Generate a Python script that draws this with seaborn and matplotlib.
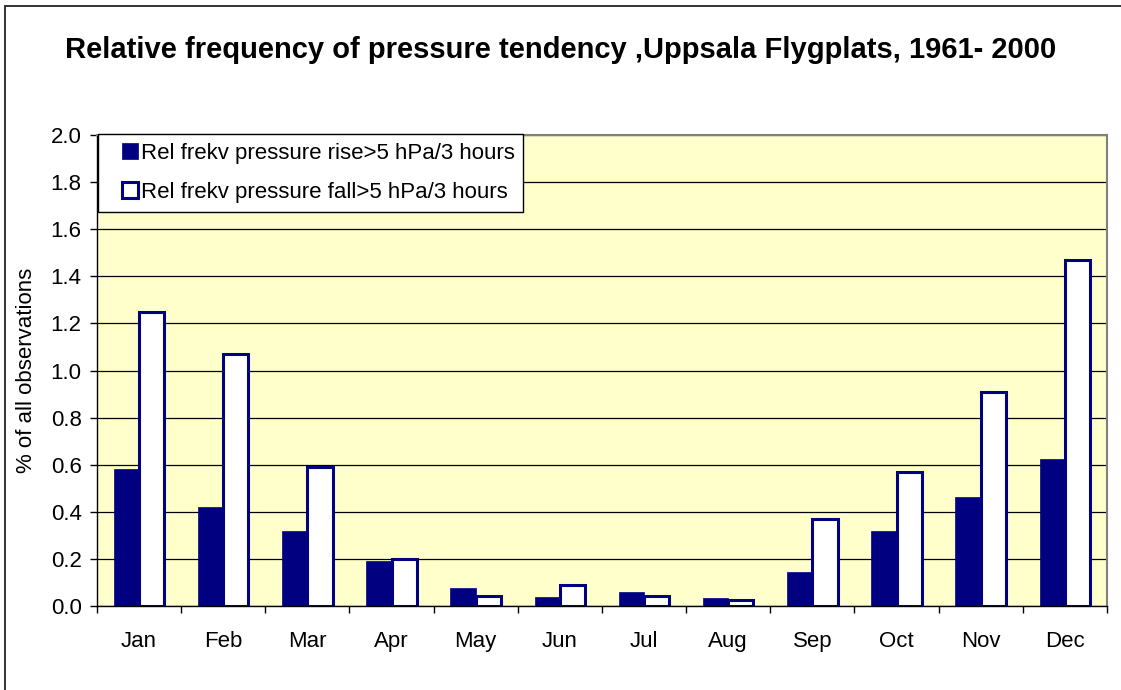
import numpy as np
import pandas as pd
import matplotlib
matplotlib.use("Agg")
import matplotlib.pyplot as plt
import seaborn as sns
from matplotlib.patches import Rectangle
from matplotlib.legend_handler import HandlerPatch
from matplotlib.ticker import FixedLocator, FormatStrFormatter

# data
months = ["Jan", "Feb", "Mar", "Apr", "May", "Jun",
          "Jul", "Aug", "Sep", "Oct", "Nov", "Dec"]
rise = [0.58, 0.42, 0.32, 0.19, 0.076, 0.038, 0.058, 0.035, 0.143, 0.318, 0.463, 0.624]
fall = [1.25, 1.07, 0.59, 0.20, 0.044, 0.089, 0.044, 0.025, 0.369, 0.568, 0.907, 1.468]
series_names = ["Rel frekv pressure rise>5 hPa/3 hours",
                "Rel frekv pressure fall>5 hPa/3 hours"]

df = pd.DataFrame({
    "month": months * 2,
    "value": rise + fall,
    "series": [series_names[0]] * len(months) + [series_names[1]] * len(months),
})

sns.set_style("ticks")
plt.rcParams['font.family'] = ['Liberation Sans', 'DejaVu Sans']
plt.rcParams['text.color'] = 'black'
plt.rcParams['xtick.color'] = 'black'
plt.rcParams['ytick.color'] = 'black'
plt.rcParams['axes.labelcolor'] = 'black'

navy = "#000080"
fig = plt.figure(figsize=(11.21, 6.9), dpi=100)
ax = fig.add_axes([0.0865, 0.1217, 0.901, 0.6826])
ax.set_facecolor("#FFFFCC")

sns.barplot(data=df, x="month", y="value", hue="series", order=months,
            hue_order=series_names, palette=[navy, "white"], width=0.6,
            edgecolor=navy, linewidth=2.2, saturation=1, legend=False, ax=ax)
# rise bars: no thick outline
for p in ax.containers[0]:
    p.set_linewidth(0.5)

ax.set_ylim(0, 2.0)
ax.set_xlim(-0.5, 11.5)
ax.yaxis.set_major_locator(FixedLocator(np.arange(0, 2.01, 0.2)))
ax.yaxis.set_major_formatter(FormatStrFormatter("%.1f"))
ax.grid(axis="y", color="black", linewidth=0.9)
ax.set_axisbelow(True)

ax.xaxis.set_minor_locator(FixedLocator(np.arange(-0.5, 12, 1)))
ax.tick_params(axis="x", which="major", length=0, labelsize=16, pad=18)
ax.tick_params(axis="x", which="minor", length=5, width=1, direction="out")
ax.tick_params(axis="y", length=5, width=1, labelsize=16, direction="out", pad=6)

for s in ["left", "bottom"]:
    ax.spines[s].set_color("black")
    ax.spines[s].set_linewidth(1)
for s in ["top", "right"]:
    ax.spines[s].set_visible(True)
    ax.spines[s].set_color("#808080")
    ax.spines[s].set_linewidth(1.5)

ax.set_xlabel("")
ax.set_ylabel("% of all observations", fontsize=16, labelpad=10)

fig.text(0.5, 0.927, "Relative frequency of pressure tendency ,Uppsala Flygplats, 1961- 2000",
         ha="center", va="center", fontsize=21, fontweight="bold")


def square_right(legend, orig_handle, xdescent, ydescent, width, height, fontsize):
    # small square key sitting at the right end of the handle box
    side = 0.72 * fontsize
    return Rectangle((-xdescent + width - side, -ydescent + (height - side) / 2), side, side)


handles = [c.patches[0] for c in ax.containers]
leg = ax.legend(handles, series_names, loc="upper left",
                bbox_to_anchor=(0.001, 1.002), borderaxespad=0.0, fontsize=16,
                frameon=True, fancybox=False, shadow=False, handlelength=1.4,
                handleheight=0.7, handletextpad=0.12, labelspacing=0.8,
                borderpad=0.4,
                handler_map={Rectangle: HandlerPatch(patch_func=square_right)})
leg.get_frame().set_edgecolor("black")
leg.get_frame().set_linewidth(1)
leg.get_frame().set_alpha(1)

# outer chart border
fig.patches.append(Rectangle((5 / 1121, -0.02), 1.1, 1 - 6 / 690 + 0.02,
                             transform=fig.transFigure, fill=False,
                             edgecolor="#222222", linewidth=1.3))

fig.savefig("out.png", dpi=100)
